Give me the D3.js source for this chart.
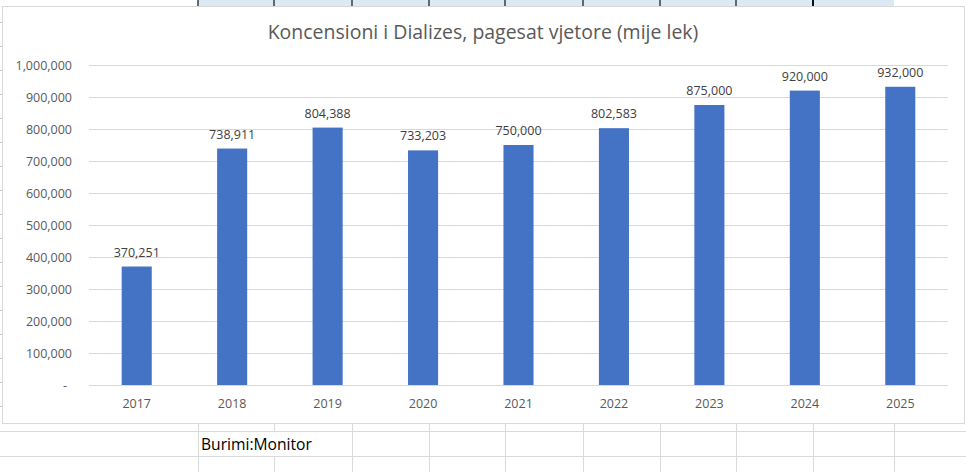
<!DOCTYPE html>
<html>
<head>
<meta charset="utf-8">
<script src="https://cdn.jsdelivr.net/npm/d3@7"></script>
<style>
  body { margin: 0; background: #fff; }
  text { font-family: "Open Sans", "Noto Sans", sans-serif; }
</style>
</head>
<body>
<script>
// data
var years = ["2017", "2018", "2019", "2020", "2021", "2022", "2023", "2024", "2025"];
var payments = [370251, 738911, 804388, 733203, 750000, 802583, 875000, 920000, 932000];
var yTicks = [0, 100000, 200000, 300000, 400000, 500000, 600000, 700000, 800000, 900000, 1000000];
var titleText = "Koncensioni i Dializes, pagesat vjetore (mije lek)";
var sourceText = "Burimi:Monitor";
// spreadsheet column edges visible around the chart
var sheetCols = [198, 274, 352, 429, 505, 583, 660, 736, 813, 894];

var width = 966;
var height = 472;

var box = { x: 2, y: 6, w: 962, h: 417 };
var plot = { left: 89, right: 948, top: 65, bottom: 385 };

var svg = d3.select("body").append("svg")
  .attr("width", width)
  .attr("height", height);

// --- spreadsheet background bits ---
svg.append("rect")
  .attr("x", sheetCols[0]).attr("y", 0)
  .attr("width", sheetCols[sheetCols.length - 1] - sheetCols[0])
  .attr("height", 6)
  .attr("fill", "#dde8f5");

svg.append("g").selectAll("line")
  .data(sheetCols.slice(0, -1))
  .enter().append("line")
  .attr("x1", d => d).attr("x2", d => d)
  .attr("y1", 0).attr("y2", 6)
  .attr("stroke", "#111")
  .attr("stroke-width", (d, i) => i == 8 ? 2 : 1.2);

// bottom rows
var rowLines = [431, 456];
svg.append("g").selectAll("line")
  .data(rowLines)
  .enter().append("line")
  .attr("x1", 0).attr("x2", width)
  .attr("y1", d => d + 0.5).attr("y2", d => d + 0.5)
  .attr("stroke", "#dadada");

svg.append("g").selectAll("line")
  .data(sheetCols)
  .enter().append("line")
  .attr("x1", d => d + 0.5).attr("x2", d => d + 0.5)
  .attr("y1", 423).attr("y2", height)
  .attr("stroke", "#dadada");

// text overflows across the cell border
svg.append("rect")
  .attr("x", 272).attr("y", 432)
  .attr("width", 4).attr("height", 24)
  .attr("fill", "#fff");

var source = svg.append("text")
  .attr("x", 201)
  .attr("y", 450)
  .attr("font-size", 14)
  .attr("fill", "#000")
  .text(sourceText);
var sw = source.node().getComputedTextLength();
source.attr("font-size", 14 * 111 / sw);

// left edge row ticks
svg.append("g").selectAll("line")
  .data(d3.range(22, 423, 24))
  .enter().append("line")
  .attr("x1", 0).attr("x2", 2)
  .attr("y1", d => d + 0.5).attr("y2", d => d + 0.5)
  .attr("stroke", "#c8c8c8");

// --- chart area ---
svg.append("rect")
  .attr("x", box.x + 0.5).attr("y", box.y + 0.5)
  .attr("width", box.w).attr("height", box.h)
  .attr("fill", "#fff")
  .attr("stroke", "#d9d9d9");

var x = d3.scaleBand()
  .domain(years)
  .range([plot.left, plot.right])
  .paddingInner(0.685)
  .paddingOuter(0.3425);

var y = d3.scaleLinear()
  .domain([0, 1000000])
  .range([plot.bottom, plot.top]);

// gridlines
svg.append("g").selectAll("line")
  .data(yTicks)
  .enter().append("line")
  .attr("x1", plot.left).attr("x2", plot.right)
  .attr("y1", d => Math.round(y(d)) + 0.5)
  .attr("y2", d => Math.round(y(d)) + 0.5)
  .attr("stroke", "#d9d9d9");

// y axis labels
var fmt = d3.format(",");
var yAxis = d3.axisLeft(y)
  .tickValues(yTicks)
  .tickSize(0)
  .tickPadding(0)
  .tickFormat(d => d == 0 ? "-" : fmt(d));

var gy = svg.append("g")
  .attr("transform", "translate(72,0)")
  .call(yAxis);
gy.select(".domain").remove();
gy.selectAll("text")
  .attr("font-size", 12.5)
  .attr("fill", "#595959")
  .attr("font-family", "'Open Sans', sans-serif")
  .attr("dx", d => d == 0 ? -5 : 0);

// x axis labels
var xAxis = d3.axisBottom(x).tickSize(0).tickPadding(0);
var gx = svg.append("g")
  .attr("transform", "translate(0," + plot.bottom + ")")
  .call(xAxis);
gx.select(".domain").remove();
gx.selectAll("text")
  .attr("font-size", 12.5)
  .attr("fill", "#595959")
  .attr("font-family", "'Open Sans', sans-serif")
  .attr("dy", 0)
  .attr("y", 23);

// bars
svg.append("g").selectAll("rect")
  .data(payments)
  .enter().append("rect")
  .attr("x", (d, i) => x(years[i]))
  .attr("y", d => y(d))
  .attr("width", x.bandwidth())
  .attr("height", d => plot.bottom - y(d))
  .attr("fill", "#4472c4");

// value labels
svg.append("g").selectAll("text")
  .data(payments)
  .enter().append("text")
  .attr("x", (d, i) => x(years[i]) + x.bandwidth() / 2)
  .attr("y", d => y(d) - 10)
  .attr("text-anchor", "middle")
  .attr("font-size", 12.5)
  .attr("fill", "#404040")
  .text(d => fmt(d));

// title, sized to the reference width
var title = svg.append("text")
  .attr("x", 483)
  .attr("y", 39)
  .attr("text-anchor", "middle")
  .attr("font-size", 18)
  .attr("fill", "#595959")
  .text(titleText);
var tw = title.node().getComputedTextLength();
title.attr("font-size", 18 * 431 / tw);
</script>
</body>
</html>
